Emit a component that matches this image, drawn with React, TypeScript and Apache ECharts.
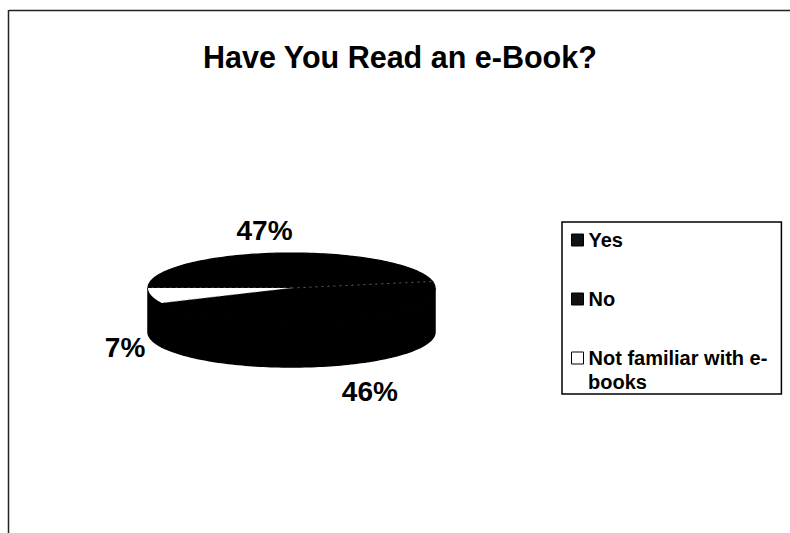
import React, { useEffect, useRef } from "react";
import * as echarts from "echarts";

// ---- data ----
const categories = ["Yes", "No", "Not familiar with e-books"];
const values = [47, 46, 7];
const titleText = "Have You Read an e-Book?";

// ---- style / layout ----
const FONT = "'Liberation Sans', Arial, Helvetica, sans-serif";
const PIE = { cx: 291.5, cy: 288, rx: 143.5, ry: 35, depth: 44, startAngle: 180 };
const topColors = ["#000000", "#000000", "#ffffff"];
const sideColor = "#000000";
const legendColors = ["#111111", "#111111", "#ffffff"];
const LABEL_GAP = 26;
const LABEL_NUDGE = [
  [-11, 3],
  [26, 1],
  [-1, 2],
];

function pt(theta: number, dy: number): number[] {
  const r = (theta * Math.PI) / 180;
  return [PIE.cx + PIE.rx * Math.cos(r), PIE.cy - PIE.ry * Math.sin(r) + dy];
}

function arc(from: number, to: number, dy: number): number[][] {
  const n = Math.max(2, Math.ceil(Math.abs(to - from) / 1.5));
  const out: number[][] = [];
  for (let k = 0; k <= n; k++) out.push(pt(from + ((to - from) * k) / n, dy));
  return out;
}

function makeRenderItem(i: number) {
  return (params: any, api: any) => {
    const total = values.reduce((a, b) => a + b, 0);
    const cum = values.slice(0, i).reduce((a, b) => a + b, 0);
    const v = api.value(0) as number;
    const a0 = PIE.startAngle - (360 * cum) / total;
    const a1 = a0 - (360 * v) / total;
    const children: any[] = [];
    // visible front side walls
    for (let k = -2; k <= 2; k++) {
      const s = Math.max(a1, 180 + 360 * k);
      const e = Math.min(a0, 360 + 360 * k);
      if (e > s) {
        const pts = arc(s, e, 0).concat(arc(e, s, PIE.depth));
        children.push({
          type: "polygon",
          shape: { points: pts },
          style: { fill: sideColor, stroke: sideColor, lineWidth: 1.5 },
        });
      }
    }
    // top face
    const isWhite = topColors[i] === "#ffffff";
    children.push({
      type: "polygon",
      shape: { points: [[PIE.cx, PIE.cy]].concat(arc(a0, a1, 0)) },
      style: { fill: topColors[i], stroke: isWhite ? "none" : topColors[i], lineWidth: 1.2 },
    });
    // faint dotted divider
    const sp = pt(a0, 0);
    children.push({
      type: "line",
      shape: { x1: PIE.cx, y1: PIE.cy, x2: sp[0], y2: sp[1] },
      style: { stroke: "#888", lineWidth: 0.7, lineDash: [2, 4] },
    });
    // percentage label
    const mid = (a0 + a1) / 2;
    const r = (mid * Math.PI) / 180;
    const front = Math.sin(r) < 0;
    const edge = pt(mid, front ? PIE.depth : 0);
    const lx = edge[0] + LABEL_GAP * Math.cos(r) + LABEL_NUDGE[i][0];
    const ly = edge[1] - LABEL_GAP * Math.sin(r) + LABEL_NUDGE[i][1];
    children.push({
      type: "text",
      x: lx,
      y: ly,
      style: {
        text: Math.round((v / total) * 100) + "%",
        fill: "#000",
        fontSize: 28,
        fontWeight: "bold",
        fontFamily: FONT,
        align: "center",
        verticalAlign: "middle",
      },
    });
    return { type: "group", children };
  };
}

export default function App() {
  const ref = useRef<HTMLDivElement>(null);
  useEffect(() => {
    if (!ref.current) return;
    const chart = echarts.init(ref.current, null, { renderer: "svg" });
    chart.setOption({
      animation: false,
      backgroundColor: "#ffffff",
      title: {
        text: titleText,
        left: 203,
        top: 41,
        padding: 0,
        textStyle: { fontSize: 30.5, fontWeight: "bold", fontFamily: FONT, color: "#000" },
      },
      legend: {
        orient: "vertical",
        left: 562,
        top: 222,
        padding: [6, 14, 24, 9],
        itemWidth: 12,
        itemHeight: 12,
        itemGap: 35,
        icon: "rect",
        backgroundColor: "#fff",
        borderColor: "#000",
        borderWidth: 1.5,
        selectedMode: false,
        textStyle: { fontSize: 20, fontWeight: "bold", fontFamily: FONT, color: "#000", lineHeight: 24 },
        itemStyle: { borderColor: "#000", borderWidth: 1 },
        formatter: (name: string) => (name === categories[2] ? "Not familiar with e-" : name),
        data: categories,
      },
      graphic: [
        { type: "line", z: 100, shape: { x1: 9, y1: 10.5, x2: 790, y2: 10.5 }, style: { stroke: "#222", lineWidth: 1.5 } },
        { type: "line", z: 100, shape: { x1: 8.5, y1: 10, x2: 8.5, y2: 533 }, style: { stroke: "#222", lineWidth: 1.5 } },
        {
          type: "text",
          z: 100,
          zlevel: 0,
          x: 588,
          y: 382,
          style: {
            text: "books",
            fill: "#000",
            fontSize: 20,
            fontWeight: "bold",
            fontFamily: FONT,
            align: "left",
            verticalAlign: "middle",
          },
        },
      ],
      series: categories.map((name, i) => ({
        type: "custom",
        name,
        coordinateSystem: "none",
        renderItem: makeRenderItem(i),
        itemStyle: { color: legendColors[i], borderColor: "#000", borderWidth: 1 },
        data: [values[i]],
        silent: true,
      })),
    });
    return () => chart.dispose();
  }, []);
  return (
    <div
      ref={ref}
      style={{ position: "fixed", left: 0, top: 0, width: 790, height: 533, background: "#fff" }}
    />
  );
}
